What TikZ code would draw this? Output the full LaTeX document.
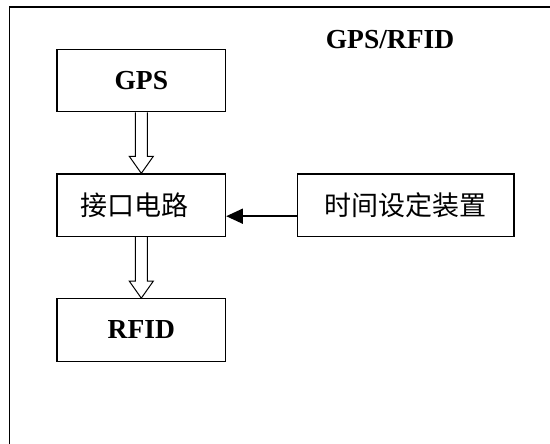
\documentclass[tikz,border=0pt]{standalone}
\usepackage{fontspec}
\setmainfont{Liberation Serif}
\newfontfamily\cjk{Noto Sans CJK SC}
\usetikzlibrary{calc,arrows.meta}
\tikzset{
  blockbox/.style={draw=black, line width=1.2pt, fill=white, inner sep=0pt,
    minimum width=168.6pt, minimum height=62.5pt},
  latinfont/.style={font=\fontsize{27.5pt}{30pt}\selectfont\bfseries},
  cjkfont/.style={font=\fontsize{27pt}{30pt}\selectfont\cjk},
  hollow/.style={draw=black, line width=1pt, fill=white, line join=miter},
  solidarrow/.style={draw=black, line width=1.8pt, -{Triangle[length=16.7pt,width=15pt]}},
  framestyle/.style={draw=black, line width=1.8pt}
}
\begin{document}
\begin{tikzpicture}[x=1pt,y=-1pt]
\useasboundingbox (0,0) rectangle (550,444);
% frame
\coordinate (fbl) at (9.5,444);
\coordinate (ftl) at (9.5,7.3);
\coordinate (ftr) at (550,7.3);
\draw[framestyle] (fbl) -- (ftl) -- (ftr);
% title
\node[latinfont] (title) at (390,39.3) {GPS/RFID};
% boxes
\node[blockbox, latinfont] (gps) at (141.3,80.5) {GPS};
\node[blockbox, cjkfont] (iface) at (141.3,205.2) {接口电路\kern14pt};
\node[blockbox, latinfont] (rfid) at (141.3,330) {RFID};
\node[blockbox, cjkfont, minimum width=216.5pt] (time) at (405.75,205.2) {时间设定装置};
% hollow arrows
\draw[hollow] ($(gps.south)+(-6,0)$) -- ($(iface.north)+(-6,-17)$) -- ($(iface.north)+(-12,-17)$)
  -- (iface.north) -- ($(iface.north)+(12,-17)$) -- ($(iface.north)+(6,-17)$) -- ($(gps.south)+(6,0)$);
\draw[hollow] ($(iface.south)+(-6,0)$) -- ($(rfid.north)+(-6,-17)$) -- ($(rfid.north)+(-12,-17)$)
  -- (rfid.north) -- ($(rfid.north)+(12,-17)$) -- ($(rfid.north)+(6,-17)$) -- ($(iface.south)+(6,0)$);
% solid arrow
\draw[solidarrow] ($(time.west)+(0,11)$) -- ($(iface.east)+(0,11)$);
\end{tikzpicture}
\end{document}
